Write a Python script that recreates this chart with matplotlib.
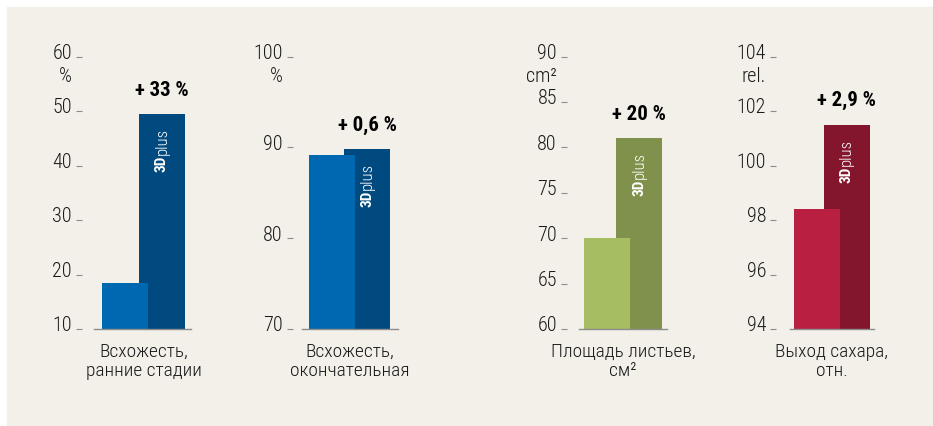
import matplotlib
matplotlib.use('Agg')
import matplotlib.pyplot as plt
from matplotlib.patches import Rectangle

plt.rcParams['font.family'] = ['Roboto Condensed', 'DejaVu Sans']

# data
categories = ['Всхожесть,\nранние стадии', 'Всхожесть,\nокончательная',
              'Площадь листьев,\nсм²', 'Выход сахара,\nотн.']
units = ['%', '%', 'cm²', 'rel.']
standard = [18.4, 89.2, 70.0, 98.4]
plus_3d = [49.4, 89.8, 81.0, 101.5]
gains = ['+ 33 %', '+ 0,6 %', '+ 20 %', '+ 2,9 %']
yticks = [[10, 20, 30, 40, 50, 60],
          [70, 80, 90, 100],
          [60, 65, 70, 75, 80, 85, 90],
          [94, 96, 98, 100, 102, 104]]

colors_std = ['#0067b1', '#0067b1', '#a6bd62', '#b81f40']
colors_plus = ['#014a80', '#014a80', '#7f914b', '#83152c']

# layout in pixels: bar1 centre, bar2 centre, baseline left, baseline right, tick gap
layout = [(125, 162, 94, 191, 12),
          (332, 367, 302, 398, 9),
          (607, 639, 579, 667, 12),
          (817, 846.5, 790, 874, 14)]

W, H = 933, 427
BW = 46
Y0, Y1 = 330, 57.5
txt = '#1a1a1a'
grey = '#8c8c8c'

fig = plt.figure(figsize=(W / 100, H / 100), dpi=100)
fig.patches.append(Rectangle((7 / W, 0), 1, (H - 8) / H, transform=fig.transFigure,
                             color='#f3f0ea', zorder=-10))

for i in range(4):
    c1, c2, bl, br, gap = layout[i]
    ax = fig.add_axes([bl / W, (H - Y0) / H, (br - bl) / W, (Y0 - Y1) / H])
    ax.set_zorder(2)
    ax.set_facecolor('none')
    ax.set_xlim((bl - c1) / BW, (br - c1) / BW)
    ticks = yticks[i]
    ax.set_ylim(ticks[0], ticks[-1])
    x2 = (c2 - c1) / BW

    ax.bar([x2], [plus_3d[i]], width=1, color=colors_plus[i], zorder=1)
    ax.bar([0], [standard[i]], width=1, color=colors_std[i], zorder=2)

    for s in ['top', 'right']:
        ax.spines[s].set_visible(False)
    ax.spines['bottom'].set_color(grey)
    ax.spines['bottom'].set_linewidth(1)
    ax.spines['left'].set_position(('outward', gap * 0.72))
    ax.spines['left'].set_visible(False)
    ax.set_xticks([])
    ax.set_yticks(ticks)
    ax.tick_params(axis='y', length=6 * 0.72, width=0.8, color=grey,
                   direction='out', labelleft=False)

    for t in ticks:
        ax.annotate(str(t), xy=(0, t), xycoords=('axes fraction', 'data'),
                    xytext=(-(gap + 10), -1.5), textcoords='offset pixels',
                    ha='right', va='baseline', fontsize=14.5, fontweight=300,
                    color=txt, annotation_clip=False)
    ax.annotate(units[i], xy=(0, ticks[-1]), xycoords=('axes fraction', 'data'),
                xytext=(-(gap + 10), -19), textcoords='offset pixels',
                ha='right', va='center', fontsize=14.5, fontweight=300,
                color=txt, annotation_clip=False)

    ax.annotate(gains[i], xy=(x2, plus_3d[i]), xytext=(0, 25),
                textcoords='offset pixels', ha='center', va='center',
                fontsize=15, fontweight='bold', color='black')

    ax.annotate('3D', xy=(x2, plus_3d[i]), xytext=(0, -57),
                textcoords='offset pixels', rotation=90, rotation_mode='anchor',
                ha='left', va='center', fontsize=11, fontweight='bold',
                color='white', zorder=3)
    ax.annotate('plus', xy=(x2, plus_3d[i]), xytext=(0, -40),
                textcoords='offset pixels', rotation=90, rotation_mode='anchor',
                ha='left', va='center', fontsize=12, fontweight=300,
                color='white', zorder=3)

    ax.annotate(categories[i], xy=(x2 / 2, ticks[0]), xytext=(0, -13),
                textcoords='offset pixels', ha='center', va='top',
                fontsize=14, fontweight=300, linespacing=1.05, color=txt,
                annotation_clip=False)

fig.savefig('out.png', dpi=100, facecolor='white')
